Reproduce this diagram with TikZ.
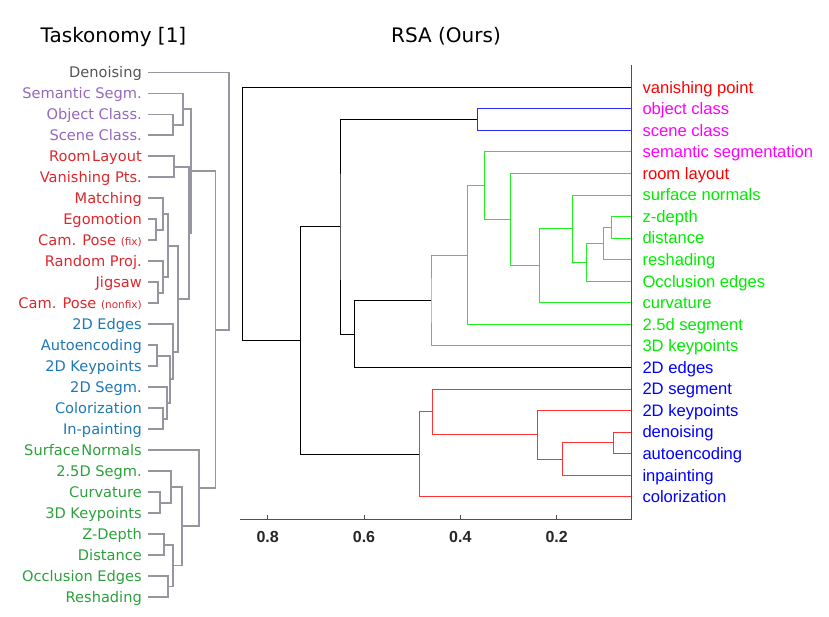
\documentclass[tikz,border=0pt]{standalone}
\usepackage{fontspec}
\setmainfont{DejaVu Sans}
\newfontfamily\arialfont{Liberation Sans}
\usetikzlibrary{calc}
\definecolor{lgray}{RGB}{150,150,160}
\definecolor{tgray}{RGB}{85,85,85}
\definecolor{tpurple}{RGB}{148,103,189}
\definecolor{tred}{RGB}{220,40,45}
\definecolor{tblue}{RGB}{31,119,180}
\definecolor{tgreen}{RGB}{44,160,60}
\definecolor{axgray}{RGB}{80,80,80}
\definecolor{pred}{RGB}{255,0,0}
\definecolor{pmag}{RGB}{255,0,255}
\definecolor{pgreen}{RGB}{0,235,0}
\definecolor{pblue}{RGB}{0,0,255}
\definecolor{lgreen}{RGB}{30,240,30}
\definecolor{lred}{RGB}{255,50,50}
\definecolor{lblue}{RGB}{40,40,255}
\newcommand\mrg[5][]{%
  \path ($(#4)!0.5!(#5)$) coordinate (#2mid);
  \coordinate (#2) at (#3,0 |- #2mid);
  \draw[#1] (#4) -| (#2) |- (#5);}
\newcommand\lleaf[4]{%
  \node[lleaf, text=#3] (t#1) at (142, {72.5+20.98*#2+5.3}) {#4};
  \coordinate (#1) at (148, {72.5+20.98*#2});}
\newcommand\rleaf[4]{%
  \node[rleaf, text=#3] (t#1) at (642.3, {87.3+21.55*#2+5.8}) {#4};
  \coordinate (#1) at (631.7, {87.3+21.55*#2});}
\newcommand\smallpar[1]{{\fontsize{10.5}{12}\selectfont #1}}
\tikzset{
  lleaf/.style={anchor=base east, inner sep=0pt, font=\fontsize{14.6}{17}\selectfont},
  rleaf/.style={anchor=base west, inner sep=0pt, font=\arialfont\fontsize{16.6}{19}\selectfont},
  title/.style={anchor=base, inner sep=0pt, font=\fontsize{20}{24}\selectfont},
  lline/.style={draw=lgray, line width=1.9pt},
  kline/.style={draw=black, line width=0.9pt},
  gline/.style={draw=lgreen, line width=1pt},
  rline/.style={draw=lred, line width=1pt},
  bline/.style={draw=lblue, line width=1pt},
  axline/.style={draw=axgray, line width=0.9pt},
  ticklab/.style={inner sep=0pt, text=black!85, font=\arialfont\bfseries\fontsize{16}{19}\selectfont},
}
\begin{document}
\begin{tikzpicture}[x=1pt,y=-1pt]
\useasboundingbox (0,0) rectangle (829,616);
% titles
\node[title] (ttask) at (113.5,42.7) {Taskonomy [1]};
\node[title] (trsa) at (446,42.7) {RSA (Ours)};
% ---------------- left dendrogram ----------------
\lleaf{Den}{0}{tgray}{Denoising}
\lleaf{Sem}{1}{tpurple}{Semantic Segm.}
\lleaf{Obj}{2}{tpurple}{Object Class.}
\lleaf{Sce}{3}{tpurple}{Scene Class.}
\lleaf{Roo}{4}{tred}{Room\hspace{1.5pt}Layout}
\lleaf{Van}{5}{tred}{Vanishing Pts.}
\lleaf{Mat}{6}{tred}{Matching}
\lleaf{Ego}{7}{tred}{Egomotion}
\lleaf{CaF}{8}{tred}{Cam. Pose \smallpar{(fix)}}
\lleaf{Ran}{9}{tred}{Random Proj.}
\lleaf{Jig}{10}{tred}{Jigsaw}
\lleaf{CaN}{11}{tred}{Cam. Pose \smallpar{(nonfix)}}
\lleaf{Edg}{12}{tblue}{2D Edges}
\lleaf{Aut}{13}{tblue}{Autoencoding}
\lleaf{Key}{14}{tblue}{2D Keypoints}
\lleaf{Seg}{15}{tblue}{2D Segm.}
\lleaf{Col}{16}{tblue}{Colorization}
\lleaf{Inp}{17}{tblue}{In-painting}
\lleaf{Sur}{18}{tgreen}{Surface\hspace{1.5pt}Normals}
\lleaf{TwF}{19}{tgreen}{2.5D Segm.}
\lleaf{Cur}{20}{tgreen}{Curvature}
\lleaf{TdK}{21}{tgreen}{3D Keypoints}
\lleaf{Zde}{22}{tgreen}{Z-Depth}
\lleaf{Dis}{23}{tgreen}{Distance}
\lleaf{Occ}{24}{tgreen}{Occlusion Edges}
\lleaf{Res}{25}{tgreen}{Reshading}
\mrg[lline]{a1}{172.7}{Obj}{Sce}
\mrg[lline]{a2}{183.3}{Sem}{a1}
\mrg[lline]{b1}{174}{Roo}{Van}
\mrg[lline]{c1}{156}{Ego}{CaF}
\mrg[lline]{c2}{162.7}{Mat}{c1}
\mrg[lline]{c3}{158.3}{Jig}{CaN}
\mrg[lline]{c4}{163.3}{Ran}{c3}
\mrg[lline]{c5}{168.3}{c2}{c4}
\mrg[lline]{d1}{156.7}{Aut}{Key}
\mrg[lline]{d2}{163.3}{Col}{Inp}
\mrg[lline]{d3}{166.7}{Seg}{d2}
\mrg[lline]{d4}{170}{d1}{d3}
\mrg[lline]{d5}{173.3}{Edg}{d4}
\mrg[lline]{cd}{178.3}{c5}{d5}
\mrg[lline]{bcd}{189.3}{b1}{cd}
\mrg[lline]{abcd}{191}{a2}{bcd}
\mrg[lline]{f1}{160}{Cur}{TdK}
\mrg[lline]{f2}{170.7}{TwF}{f1}
\mrg[lline]{h1}{164.3}{Zde}{Dis}
\mrg[lline]{h2}{167.7}{Occ}{Res}
\mrg[lline]{h3}{172.7}{h1}{h2}
\mrg[lline]{f3}{181.7}{f2}{h3}
\mrg[lline]{sn}{199}{Sur}{f3}
\mrg[lline]{top}{215.5}{abcd}{sn}
\mrg[lline]{lroot}{229.3}{Den}{top}
% ---------------- right dendrogram ----------------
\rleaf{rvan}{0}{pred}{vanishing point}
\rleaf{robj}{1}{pmag}{object class}
\rleaf{rsce}{2}{pmag}{scene class}
\rleaf{rsem}{3}{pmag}{semantic segmentation}
\rleaf{rroo}{4}{pred}{room layout}
\rleaf{rsur}{5}{pgreen}{surface normals}
\rleaf{rzde}{6}{pgreen}{z-depth}
\rleaf{rdis}{7}{pgreen}{distance}
\rleaf{rres}{8}{pgreen}{reshading}
\rleaf{rocc}{9}{pgreen}{Occlusion edges}
\rleaf{rcur}{10}{pgreen}{curvature}
\rleaf{rtwf}{11}{pgreen}{2.5d segment}
\rleaf{rtdk}{12}{pgreen}{3D keypoints}
\rleaf{redg}{13}{pblue}{2D edges}
\rleaf{rseg}{14}{pblue}{2D segment}
\rleaf{rkey}{15}{pblue}{2D keypoints}
\rleaf{rden}{16}{pblue}{denoising}
\rleaf{raut}{17}{pblue}{autoencoding}
\rleaf{rinp}{18}{pblue}{inpainting}
\rleaf{rcol}{19}{pblue}{colorization}
\mrg[bline]{r1}{477.3}{robj}{rsce}
\mrg[gline]{g1}{611.7}{rzde}{rdis}
\mrg[gline]{g2}{603.3}{g1}{rres}
\mrg[gline]{g3}{586.7}{g2}{rocc}
\mrg[gline]{g4}{572.3}{rsur}{g3}
\mrg[gline]{g5}{539.3}{g4}{rcur}
\mrg[gline]{g6}{510.7}{rroo}{g5}
\mrg[gline]{g7}{484.3}{rsem}{g6}
\mrg[gline]{g8}{467.3}{g7}{rtwf}
\mrg[gline]{g9}{431}{g8}{rtdk}
\mrg[kline]{k1}{354.3}{g9}{redg}
\mrg[kline]{k2}{340}{r1}{k1}
\mrg[rline]{e1}{613.3}{rden}{raut}
\mrg[rline]{e2}{562.7}{e1}{rinp}
\mrg[rline]{e3}{537.7}{rkey}{e2}
\mrg[rline]{e4}{432.3}{rseg}{e3}
\mrg[rline]{e5}{419.3}{e4}{rcol}
\mrg[kline]{k3}{300.7}{k2}{e5}
\mrg[kline]{k4}{242.7}{rvan}{k3}
% axes
\coordinate (axTop) at (631.7,65);
\coordinate (axCorner) at (631.7,519.3);
\coordinate (axLeft) at (240,519.3);
\draw[axline] (axTop) -- (axCorner) -- (axLeft);
\foreach \xx/\ll/\nn in {267.7/0.8/a, 364/0.6/b, 460.3/0.4/c, 556.7/0.2/d}{
  \coordinate (tk\nn) at (\xx,519.3);
  \draw[axline] (tk\nn) -- ++(0,-4.5);
  \node[ticklab] (tl\nn) at (\xx,536.7) {\ll};
}
\end{tikzpicture}
\end{document}
